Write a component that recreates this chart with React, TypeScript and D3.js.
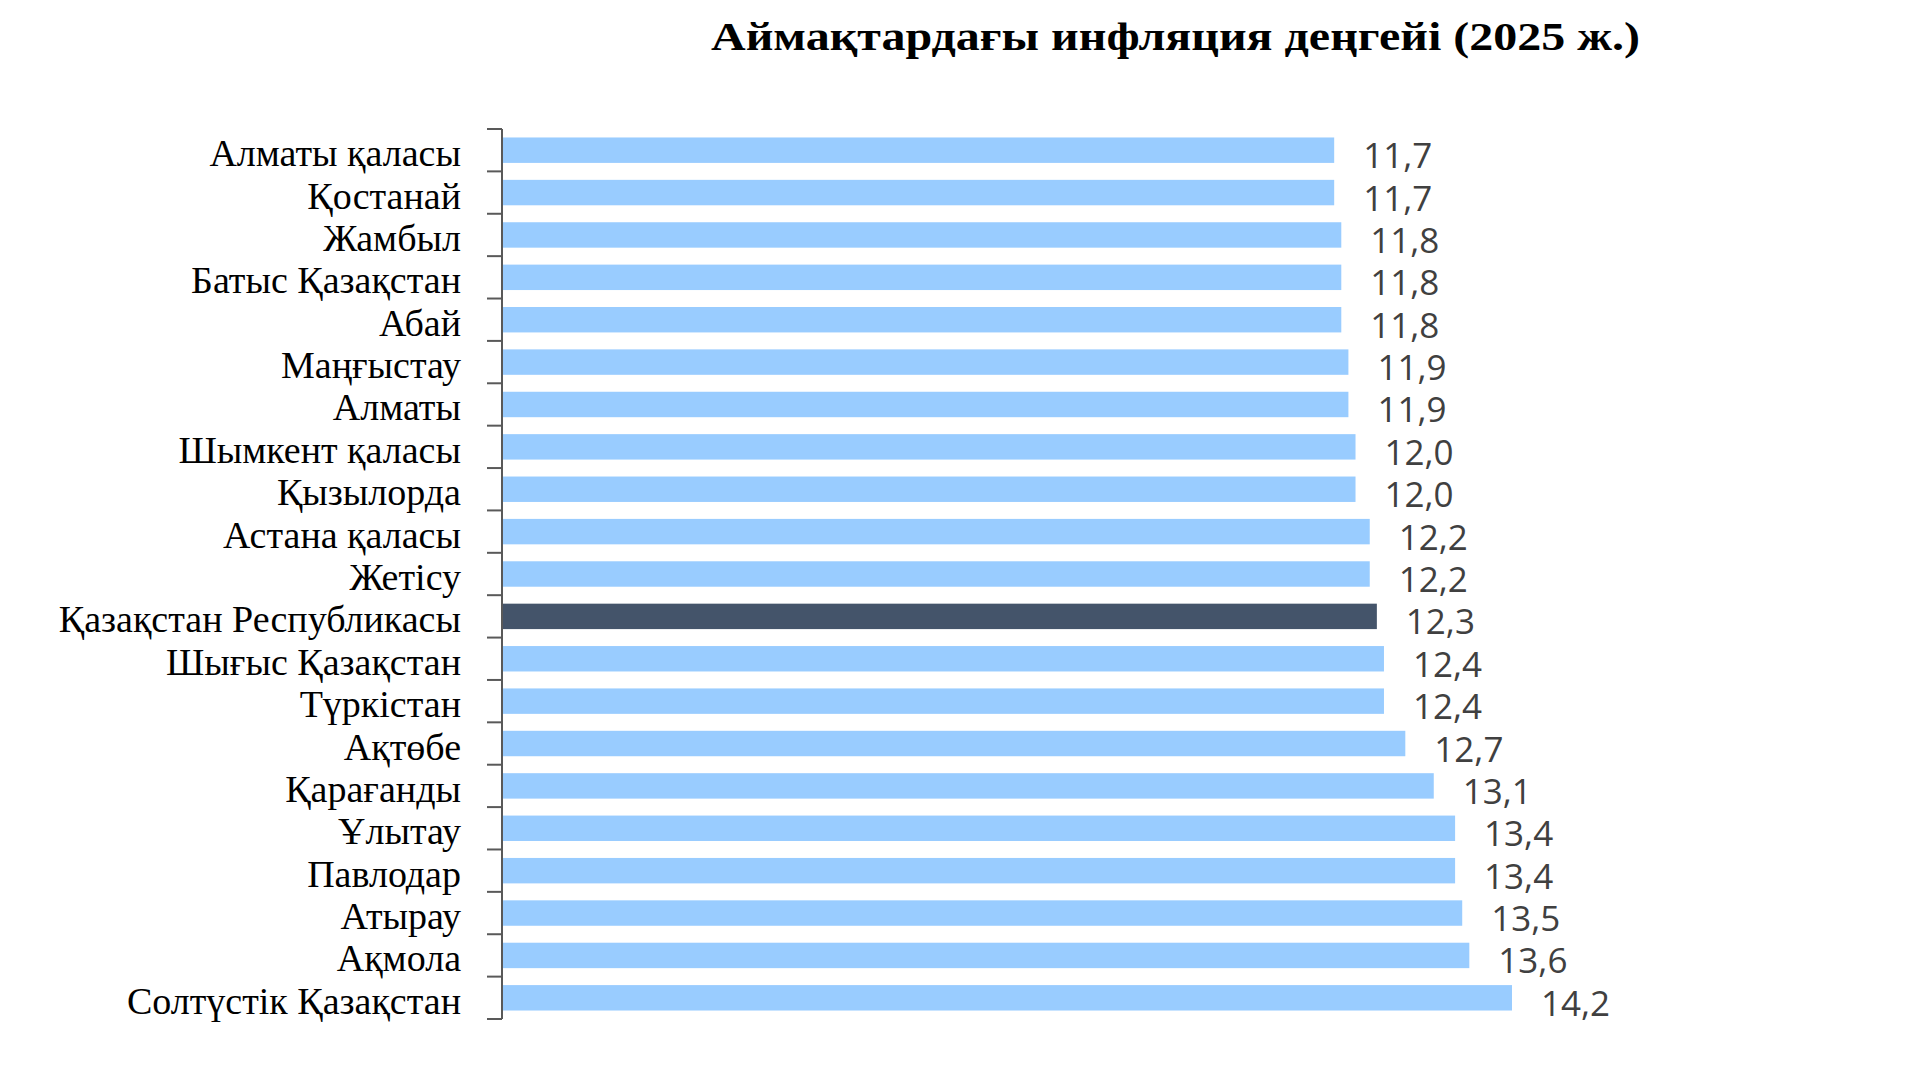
import React from "react";
import * as d3 from "d3";

const regions: string[] = [
  "Алматы қаласы",
  "Қостанай",
  "Жамбыл",
  "Батыс Қазақстан",
  "Абай",
  "Маңғыстау",
  "Алматы",
  "Шымкент қаласы",
  "Қызылорда",
  "Астана қаласы",
  "Жетісу",
  "Қазақстан Республикасы",
  "Шығыс Қазақстан",
  "Түркістан",
  "Ақтөбе",
  "Қарағанды",
  "Ұлытау",
  "Павлодар",
  "Атырау",
  "Ақмола",
  "Солтүстік Қазақстан",
];

const inflation: number[] = [
  11.7, 11.7, 11.8, 11.8, 11.8, 11.9, 11.9, 12.0, 12.0, 12.2, 12.2, 12.3, 12.4,
  12.4, 12.7, 13.1, 13.4, 13.4, 13.5, 13.6, 14.2,
];

const highlight = "Қазақстан Республикасы";
const title = "Аймақтардағы инфляция деңгейі (2025 ж.)";

export default function App() {
  const W = 1920;
  const H = 1080;
  const axisX = 502;
  const y = d3
    .scaleBand<string>()
    .domain(regions)
    .range([129, 1019])
    .paddingInner(0.4)
    .paddingOuter(0.2);
  const x = d3.scaleLinear().domain([0, 14.2]).range([axisX, 1512]);
  const step = y.step();
  const boundaries = d3.range(regions.length + 1).map((i) => 129 + i * step);
  const fmt = (v: number) => v.toFixed(1).replace(".", ",");

  return (
    <svg
      width={W}
      height={H}
      style={{ position: "absolute", left: 0, top: 0, background: "#fff" }}
    >
      <text
        x={711}
        y={50}
        textAnchor="start"
        textLength={929}
        lengthAdjust="spacingAndGlyphs"
        fontFamily="'Liberation Serif', 'Times New Roman', serif"
        fontWeight="bold"
        fontSize={41}
        fill="#000"
      >
        {title}
      </text>
      {regions.map((r, i) => (
        <rect
          key={r}
          x={x(0)}
          y={y(r)!}
          width={x(inflation[i]) - x(0)}
          height={y.bandwidth()}
          fill={r === highlight ? "#44546A" : "#99CCFF"}
        />
      ))}
      <line x1={axisX} x2={axisX} y1={129} y2={1019} stroke="#595959" strokeWidth={2} />
      {boundaries.map((b, i) => (
        <line key={i} x1={axisX - 15} x2={axisX} y1={b} y2={b} stroke="#595959" strokeWidth={2} />
      ))}
      {regions.map((r) => (
        <text
          key={"l" + r}
          x={461}
          y={y(r)! + y.bandwidth() / 2 + 16}
          textAnchor="end"
          fontFamily="'Liberation Serif', 'Times New Roman', serif"
          fontSize={38}
          fill="#000"
        >
          {r}
        </text>
      ))}
      {regions.map((r, i) => (
        <text
          key={"v" + r}
          x={x(inflation[i]) + 29}
          y={y(r)! + y.bandwidth() / 2 + 18}
          textAnchor="start"
          fontFamily="'Open Sans', 'Noto Sans', sans-serif"
          fontSize={35}
          fill="#404040"
        >
          {fmt(inflation[i])}
        </text>
      ))}
    </svg>
  );
}
